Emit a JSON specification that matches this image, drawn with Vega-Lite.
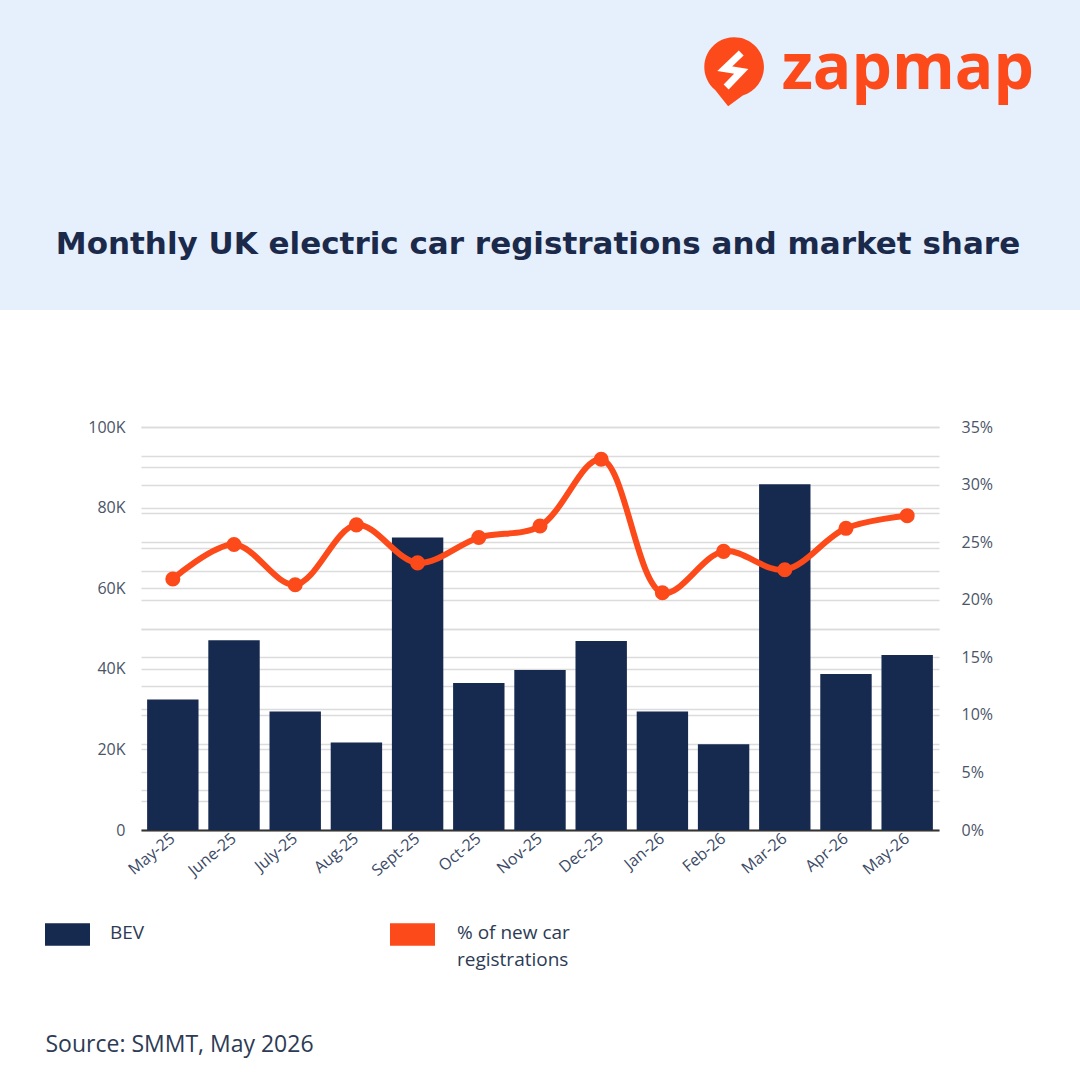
{
  "$schema": "https://vega.github.io/schema/vega-lite/v6.json",
  "padding": {"left": 0, "top": 0, "right": 0, "bottom": 20},
  "background": "white",
  "bounds": "flush",
  "spacing": 117,
  "center": true,
  "datasets": {
    "monthly": [
      {"month": "May-25", "bev": 32400, "pct": 21.8},
      {"month": "June-25", "bev": 47100, "pct": 24.8},
      {"month": "July-25", "bev": 29400, "pct": 21.3},
      {"month": "Aug-25", "bev": 21700, "pct": 26.5},
      {"month": "Sept-25", "bev": 72600, "pct": 23.2},
      {"month": "Oct-25", "bev": 36500, "pct": 25.4},
      {"month": "Nov-25", "bev": 39700, "pct": 26.4},
      {"month": "Dec-25", "bev": 46900, "pct": 32.2},
      {"month": "Jan-26", "bev": 29400, "pct": 20.6},
      {"month": "Feb-26", "bev": 21300, "pct": 24.2},
      {"month": "Mar-26", "bev": 85800, "pct": 22.6},
      {"month": "Apr-26", "bev": 38700, "pct": 26.2},
      {"month": "May-26", "bev": 43400, "pct": 27.3}
    ],
    "brand": [{"name": "zapmap"}]
  },
  "vconcat": [
    {
      "width": 1080,
      "height": 310,
      "view": {"fill": "#e6effc", "stroke": null},
      "data": {"name": "brand"},
      "layer": [
        {
          "mark": {
            "type": "point",
            "shape": "M-0.55,0.62A0.92,0.92,0,1,1,0.3,0.79L-0.15,1.12Z",
            "filled": true,
            "opacity": 1,
            "color": "#fc4a1a",
            "size": 4200
          },
          "encoding": {"x": {"value": 733}, "y": {"value": 70}}
        },
        {
          "mark": {
            "type": "point",
            "shape": "M0.3,-0.62L-0.3,-0.05L0.3,0.05L-0.25,0.62",
            "filled": false,
            "opacity": 1,
            "color": "white",
            "strokeWidth": 7,
            "strokeJoin": "miter",
            "size": 3000
          },
          "encoding": {"x": {"value": 733}, "y": {"value": 70}}
        },
        {
          "mark": {
            "type": "text",
            "align": "right",
            "baseline": "alphabetic",
            "fontSize": 64,
            "fontWeight": 700,
            "color": "#fc4a1a"
          },
          "encoding": {
            "text": {"field": "name"},
            "x": {"value": 1034},
            "y": {"value": 89}
          }
        }
      ]
    },
    {
      "width": 798,
      "height": 403,
      "title": {
        "text": "Monthly UK electric car registrations and market share",
        "orient": "top",
        "anchor": "middle",
        "frame": "group",
        "offset": 134,
        "dx": -2,
        "baseline": "alphabetic",
        "font": "DejaVu Sans",
        "fontSize": 31,
        "fontWeight": "bold",
        "color": "#1b2a4a"
      },
      "data": {"name": "monthly"},
      "encoding": {
        "x": {
          "field": "month",
          "type": "nominal",
          "sort": null,
          "scale": {"paddingInner": 0.16, "paddingOuter": 0.1},
          "axis": {
            "title": "Source: SMMT, May 2026",
            "titleX": -96,
            "titleY": 221,
            "titleAlign": "left",
            "titleAnchor": "start",
            "titleBaseline": "alphabetic",
            "titleFontSize": 23,
            "titleFontWeight": "normal",
            "titleColor": "#2d3b55",
            "labelAngle": -40,
            "labelAlign": "right",
            "labelBaseline": "middle",
            "labelFontSize": 16,
            "labelColor": "#3b4a66",
            "labelPadding": 6,
            "ticks": false,
            "domainColor": "#333333",
            "domainWidth": 2,
            "grid": false
          }
        }
      },
      "layer": [
        {
          "mark": {"type": "bar", "color": "#16294f"},
          "encoding": {
            "y": {
              "field": "bev",
              "type": "quantitative",
              "scale": {"domain": [0, 100000]},
              "axis": {
                "title": null,
                "orient": "left",
                "values": [0, 10000, 20000, 30000, 40000, 50000, 60000, 70000, 80000, 90000, 100000],
                "labelExpr": "datum.value == 0 ? '0' : (datum.value % 20000 == 0 ? datum.value / 1000 + 'K' : '')",
                "labelFontSize": 16,
                "labelColor": "#4a5568",
                "labelPadding": 16,
                "ticks": false,
                "domain": false,
                "grid": true,
                "gridColor": "#dcdcdc",
                "gridWidth": 1.5
              }
            },
            "color": {
              "datum": "BEV",
              "type": "nominal",
              "scale": {"domain": ["BEV"], "range": ["#16294f"]},
              "legend": {
                "orient": "none",
                "legendX": 45,
                "legendY": 912,
                "title": null,
                "symbolType": "M-1,-0.5H1V0.5H-1Z",
                "symbolSize": 2025,
                "symbolStrokeWidth": 0,
                "labelOffset": 20,
                "labelFontSize": 19,
                "labelColor": "#2d3b55",
                "labelBaseline": "top",
                "encode": {"labels": {"update": {"dy": {"value": -11}}}}
              }
            }
          }
        },
        {
          "mark": {
            "type": "line",
            "interpolate": "catmull-rom",
            "strokeWidth": 6,
            "point": {"filled": true, "size": 170, "opacity": 1, "fill": "#fc4a1a", "stroke": null}
          },
          "encoding": {
            "y": {
              "field": "pct",
              "type": "quantitative",
              "scale": {"domain": [0, 35]},
              "axis": {
                "title": null,
                "orient": "right",
                "values": [0, 2.5, 5, 7.5, 10, 12.5, 15, 17.5, 20, 22.5, 25, 27.5, 30, 32.5, 35],
                "labelExpr": "datum.value % 5 == 0 ? datum.value + '%' : ''",
                "labelFontSize": 16,
                "labelColor": "#4a5568",
                "labelPadding": 22,
                "ticks": false,
                "domain": false,
                "grid": true,
                "gridColor": "#dcdcdc",
                "gridWidth": 1.5
              }
            },
            "stroke": {
              "datum": "% of new car registrations",
              "type": "nominal",
              "scale": {"domain": ["% of new car registrations"], "range": ["#fc4a1a"]},
              "legend": {
                "orient": "none",
                "legendX": 390,
                "legendY": 912,
                "title": null,
                "symbolType": "M-1,-0.5H1V0.5H-1Z",
                "symbolSize": 2025,
                "labelOffset": 22,
                "labelFontSize": 19,
                "labelColor": "#2d3b55",
                "labelLimit": 300,
                "labelBaseline": "top",
                "labelExpr": "['% of new car', 'registrations']",
                "encode": {
                  "symbols": {"update": {"fill": {"value": "#fc4a1a"}, "strokeWidth": {"value": 0}}},
                  "labels": {"update": {"dy": {"value": -11}, "lineHeight": {"value": 27}}}
                }
              }
            }
          }
        }
      ],
      "resolve": {"scale": {"y": "independent"}}
    }
  ],
  "config": {
    "font": "Open Sans",
    "view": {"stroke": null}
  }
}
